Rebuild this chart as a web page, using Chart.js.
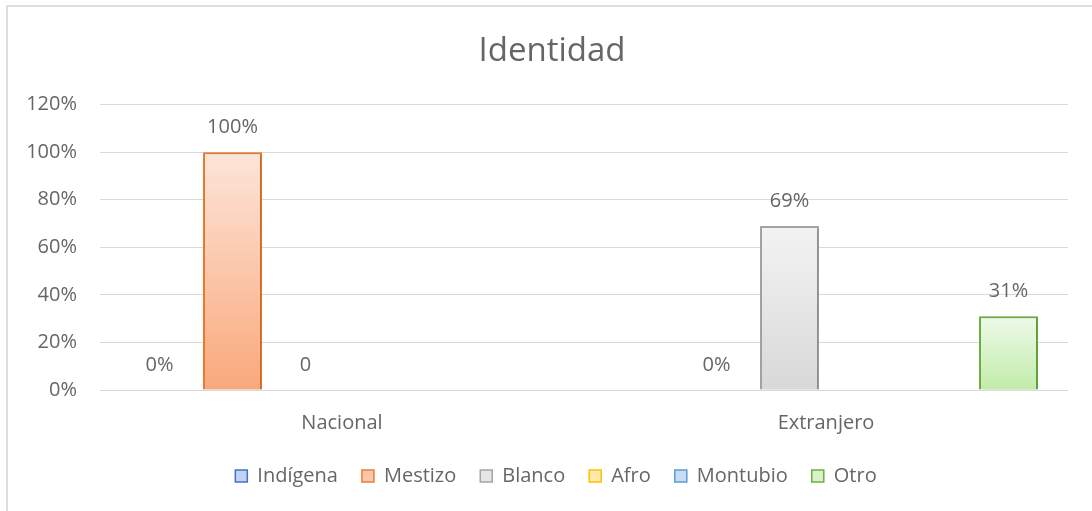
<!DOCTYPE html>
<html>
<head>
<meta charset="utf-8">
<title>Identidad</title>
<script src="https://cdn.jsdelivr.net/npm/chart.js@4/dist/chart.umd.min.js"></script>
<style>
    html, body { margin: 0; padding: 0; background: #fff; overflow: hidden; }
    #contenedor { position: relative; width: 1092px; height: 511px; }
    #marco {
        position: absolute; left: 6px; top: 5px; width: 1100px; height: 520px;
        border-top: 2px solid #dedede; border-left: 2px solid #dedede;
        pointer-events: none;
    }
</style>
</head>
<body>
<div id="contenedor">
    <canvas id="graficoIdentidad"></canvas>
    <div id="marco"></div>
</div>
<script>
// datos (porcentajes)
var categorias = ['Nacional', 'Extranjero'];
var series = ['Indígena', 'Mestizo', 'Blanco', 'Afro', 'Montubio', 'Otro'];
var indigena = [0, null];
var mestizo = [100, 0];
var blanco = [0, 69];
var afro = [null, null];
var montubio = [null, null];
var otro = [null, 31];
var ticksY = [0, 20, 40, 60, 80, 100, 120];
// Excel muestra esta etiqueta sin el signo %
var etiquetaSinPorcentaje = [{ serie: 'Blanco', categoria: 'Nacional' }];

// colores
var bordes = ['#4472c4', '#ed7d31', '#a5a5a5', '#ffc000', '#5b9bd5', '#70ad47'];
var tonoArriba = ['#dde6f6', '#fde5d9', '#f3f3f3', '#fff3cf', '#e0edf8', '#eef9e9'];
var tonoAbajo = ['#a9bfe9', '#f9a87b', '#d8d8d8', '#ffe185', '#afcdec', '#c1eca9'];
var rellenoLeyenda = ['#c2d2f0', '#fbc6a9', '#e6e6e6', '#ffeaa9', '#c8ddf2', '#d8f3c9'];
var gris = '#666666';
var fuente = '"Open Sans", "Liberation Sans", sans-serif';

function degradado(i) {
    return function (context) {
        var chart = context.chart;
        if (!chart.chartArea || context.type !== 'data' || context.raw === null) {
            return tonoAbajo[i];
        }
        var escala = chart.scales.y;
        var y0 = escala.getPixelForValue(context.raw);
        var y1 = escala.getPixelForValue(0);
        if (y1 - y0 < 1) return tonoAbajo[i];
        var g = chart.ctx.createLinearGradient(0, y0, 0, y1);
        g.addColorStop(0, tonoArriba[i]);
        g.addColorStop(1, tonoAbajo[i]);
        return g;
    };
}

var valores = [indigena, mestizo, blanco, afro, montubio, otro];
var datasets = series.map(function (nombre, i) {
    return {
        label: nombre,
        data: valores[i],
        backgroundColor: degradado(i),
        borderColor: bordes[i],
        borderWidth: function (c) { return c.raw ? 2 : 0; },
        borderSkipped: 'bottom'
    };
});

function textoEtiqueta(serie, categoria, valor) {
    var sinPct = etiquetaSinPorcentaje.some(function (e) {
        return e.serie === serie && e.categoria === categoria;
    });
    return sinPct ? String(valor) : valor + '%';
}

// etiquetas de datos encima de cada barra
var etiquetas = {
    id: 'etiquetas',
    beforeDatasetsDraw: function (chart) {
        var ctx = chart.ctx;
        ctx.save();
        ctx.shadowColor = 'rgba(0,0,0,0.22)';
        ctx.shadowBlur = 3;
        ctx.shadowOffsetX = 1;
        ctx.shadowOffsetY = 1;
    },
    afterDatasetsDraw: function (chart) {
        var ctx = chart.ctx;
        ctx.restore();
        ctx.save();
        ctx.font = '20px ' + fuente;
        ctx.fillStyle = gris;
        ctx.textAlign = 'center';
        ctx.textBaseline = 'middle';
        chart.data.datasets.forEach(function (ds, i) {
            var meta = chart.getDatasetMeta(i);
            meta.data.forEach(function (barra, j) {
                var v = ds.data[j];
                if (v === null || v === undefined) return;
                ctx.fillText(textoEtiqueta(ds.label, categorias[j], v), barra.x, barra.y - 25);
            });
        });
        ctx.restore();
    }
};

// centra titulo y leyenda como en el original
var ajusteCajas = {
    id: 'ajusteCajas',
    afterLayout: function (chart) {
        chart.titleBlock.left += 12;
        chart.titleBlock.right += 12;
        chart.legend.left += 16;
        chart.legend.right += 16;
    }
};

var ctx = document.getElementById('graficoIdentidad').getContext('2d');
var chart = new Chart(ctx, {
    type: 'bar',
    data: {
        labels: categorias,
        datasets: datasets
    },
    plugins: [etiquetas, ajusteCajas],
    options: {
        responsive: true,
        maintainAspectRatio: false,
        animation: false,
        categoryPercentage: 0.905,
        barPercentage: 0.808,
        layout: { padding: { left: 12, right: 24, top: 0, bottom: 15 } },
        plugins: {
            title: {
                display: true,
                text: 'Identidad',
                color: gris,
                font: { family: fuente, size: 33, weight: 'normal' },
                padding: { top: 32, bottom: 33 }
            },
            legend: {
                display: true,
                position: 'bottom',
                labels: {
                    color: gris,
                    font: { family: fuente, size: 20 },
                    boxWidth: 12,
                    boxHeight: 12,
                    padding: 24,
                    generateLabels: function (chart) {
                        return chart.data.datasets.map(function (ds, i) {
                            return {
                                text: ds.label,
                                fillStyle: rellenoLeyenda[i],
                                strokeStyle: bordes[i],
                                lineWidth: 1.5,
                                fontColor: gris,
                                hidden: false,
                                datasetIndex: i
                            };
                        });
                    }
                }
            },
            tooltip: { enabled: false }
        },
        scales: {
            x: {
                grid: { display: false, drawTicks: false },
                border: { display: false },
                ticks: { color: gris, font: { family: fuente, size: 20 }, padding: 21 },
                afterFit: function (scale) { scale.height = 52; }
            },
            y: {
                min: ticksY[0],
                max: ticksY[ticksY.length - 1],
                grid: { color: '#d9d9d9', lineWidth: 1, drawTicks: false },
                border: { display: false },
                ticks: {
                    stepSize: ticksY[1] - ticksY[0],
                    color: gris,
                    font: { family: fuente, size: 20 },
                    padding: 23,
                    callback: function (v) { return v + '%'; }
                },
                afterFit: function (scale) { scale.width = 88; }
            }
        }
    }
});
</script>
</body>
</html>
